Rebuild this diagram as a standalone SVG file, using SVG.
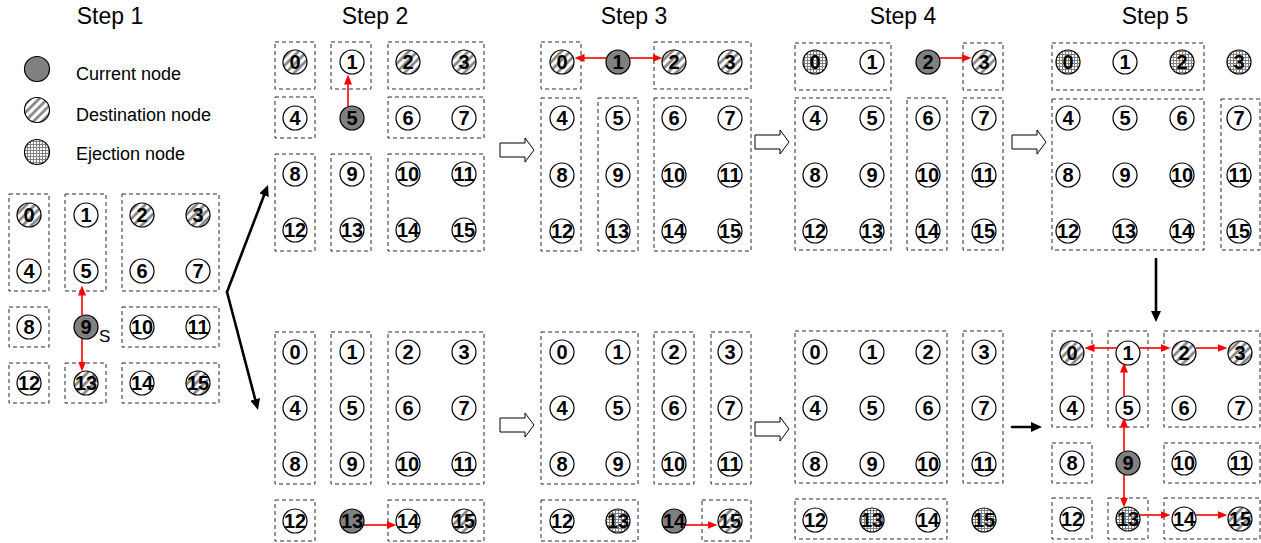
<svg xmlns="http://www.w3.org/2000/svg" width="1261" height="543" viewBox="0 0 1261 543">
<style>
.n{fill:#fff;stroke:#000;stroke-width:1.2}
.cur{fill:#808080;stroke:#000;stroke-width:1.2}
.dst{fill:url(#hatch);stroke:#000;stroke-width:1.2}
.ej{fill:url(#grid);stroke:#000;stroke-width:1.2}
.t{font-family:"Liberation Sans",Arial,sans-serif;font-size:20px;font-weight:bold;text-anchor:middle;fill:#000}
.lbl{font-family:"Liberation Sans",Arial,sans-serif;font-size:18px;fill:#000}
.ttl{font-family:"Liberation Sans",Arial,sans-serif;font-size:23px;fill:#000;text-anchor:middle}
.box{fill:none;stroke:#2a2a2a;stroke-width:1;stroke-dasharray:4 3}
.red{stroke:#ff0000;stroke-width:1.6;fill:none;marker-end:url(#rh)}
.blk{stroke:#000;stroke-width:2.6;fill:none;stroke-linecap:round;marker-end:url(#bh)}
.blockarrow{fill:#fff;stroke:#000;stroke-width:1}
</style>
<defs>
<pattern id="hatch" patternUnits="userSpaceOnUse" width="6" height="6" patternTransform="rotate(45)">
<rect width="6" height="6" fill="#fff"/>
<line x1="1.5" y1="0" x2="1.5" y2="6" stroke="#808080" stroke-width="2.6"/>
</pattern>
<pattern id="grid" patternUnits="userSpaceOnUse" width="3" height="3">
<rect width="3" height="3" fill="#fff"/>
<path d="M0,0.5H3M0.5,0V3" stroke="#808080" stroke-width="1"/>
</pattern>
<marker id="rh" markerUnits="userSpaceOnUse" markerWidth="10" markerHeight="8" refX="7.5" refY="4" orient="auto">
<path d="M0,0L10,4L0,8z" fill="#ff0000"/>
</marker>
<marker id="bh" markerUnits="userSpaceOnUse" markerWidth="12" markerHeight="10" refX="4" refY="5" orient="auto">
<path d="M0,0L11,5L0,10z" fill="#000"/>
</marker>
</defs>

<g id="titles">
<text class="ttl" x="110" y="24">Step 1</text>
<text class="ttl" x="375" y="24">Step 2</text>
<text class="ttl" x="634" y="24">Step 3</text>
<text class="ttl" x="903" y="24">Step 4</text>
<text class="ttl" x="1155" y="24">Step 5</text>
</g>

<g id="legend">
<circle class="cur" cx="37" cy="69" r="12.5"/>
<text class="lbl" x="76" y="80">Current node</text>
<circle class="dst" cx="37" cy="110" r="12.5"/>
<text class="lbl" x="76" y="121">Destination node</text>
<circle class="ej" cx="37" cy="152" r="12.5"/>
<text class="lbl" x="76" y="160">Ejection node</text>
</g>

<g id="regions">
<!-- step 1 -->
<rect class="box" x="9" y="194" width="40" height="97"/>
<rect class="box" x="65" y="194" width="41" height="97"/>
<rect class="box" x="122" y="194" width="97" height="97"/>
<rect class="box" x="9" y="307" width="40" height="40"/>
<rect class="box" x="122" y="307" width="97" height="40"/>
<rect class="box" x="9" y="363" width="40" height="40"/>
<rect class="box" x="65" y="363" width="41" height="40"/>
<rect class="box" x="122" y="363" width="97" height="40"/>
<!-- step 2 top -->
<rect class="box" x="275" y="42" width="40" height="47"/>
<rect class="box" x="331" y="42" width="40" height="47"/>
<rect class="box" x="388" y="42" width="96" height="47"/>
<rect class="box" x="275" y="97" width="40" height="41"/>
<rect class="box" x="388" y="97" width="96" height="41"/>
<rect class="box" x="275" y="154" width="40" height="97"/>
<rect class="box" x="331" y="154" width="40" height="97"/>
<rect class="box" x="388" y="154" width="96" height="97"/>
<!-- step 3 top -->
<rect class="box" x="541" y="42" width="40" height="47"/>
<rect class="box" x="654" y="42" width="97" height="47"/>
<rect class="box" x="541" y="98" width="40" height="153"/>
<rect class="box" x="598" y="98" width="40" height="153"/>
<rect class="box" x="654" y="98" width="97" height="153"/>
<!-- step 4 top -->
<rect class="box" x="795" y="43" width="96" height="47"/>
<rect class="box" x="963" y="43" width="40" height="47"/>
<rect class="box" x="795" y="98" width="96" height="152"/>
<rect class="box" x="907" y="98" width="40" height="152"/>
<rect class="box" x="963" y="98" width="40" height="152"/>
<!-- step 5 top -->
<rect class="box" x="1052" y="43" width="152" height="47"/>
<rect class="box" x="1052" y="99" width="152" height="151"/>
<rect class="box" x="1221" y="99" width="39" height="151"/>
<!-- step 2 bottom -->
<rect class="box" x="275" y="332" width="40" height="152"/>
<rect class="box" x="331" y="332" width="40" height="152"/>
<rect class="box" x="388" y="332" width="96" height="152"/>
<rect class="box" x="275" y="500" width="40" height="41"/>
<rect class="box" x="388" y="500" width="96" height="41"/>
<!-- step 3 bottom -->
<rect class="box" x="541" y="332" width="97" height="152"/>
<rect class="box" x="654" y="332" width="40" height="152"/>
<rect class="box" x="711" y="332" width="40" height="152"/>
<rect class="box" x="541" y="500" width="97" height="41"/>
<rect class="box" x="702" y="500" width="49" height="41"/>
<!-- step 4 bottom -->
<rect class="box" x="795" y="331" width="152" height="152"/>
<rect class="box" x="963" y="331" width="40" height="152"/>
<rect class="box" x="795" y="499" width="152" height="40"/>
<!-- step 5 bottom -->
<rect class="box" x="1052" y="331" width="40" height="96"/>
<rect class="box" x="1108" y="331" width="40" height="96"/>
<rect class="box" x="1164" y="331" width="96" height="96"/>
<rect class="box" x="1052" y="443" width="40" height="40"/>
<rect class="box" x="1164" y="443" width="96" height="40"/>
<rect class="box" x="1052" y="498" width="40" height="41"/>
<rect class="box" x="1108" y="498" width="40" height="41"/>
<rect class="box" x="1164" y="498" width="96" height="41"/>
</g>

<g id="step1">
<g id="s1-n0"><circle class="dst" cx="29" cy="215" r="12"/><text class="t" x="29" y="222">0</text></g>
<g id="s1-n1"><circle class="n" cx="86" cy="215" r="12"/><text class="t" x="86" y="222">1</text></g>
<g id="s1-n2"><circle class="dst" cx="142" cy="215" r="12"/><text class="t" x="142" y="222">2</text></g>
<g id="s1-n3"><circle class="dst" cx="198" cy="215" r="12"/><text class="t" x="198" y="222">3</text></g>
<g id="s1-n4"><circle class="n" cx="29" cy="271" r="12"/><text class="t" x="29" y="278">4</text></g>
<g id="s1-n5"><circle class="n" cx="86" cy="271" r="12"/><text class="t" x="86" y="278">5</text></g>
<g id="s1-n6"><circle class="n" cx="142" cy="271" r="12"/><text class="t" x="142" y="278">6</text></g>
<g id="s1-n7"><circle class="n" cx="198" cy="271" r="12"/><text class="t" x="198" y="278">7</text></g>
<g id="s1-n8"><circle class="n" cx="29" cy="327" r="12"/><text class="t" x="29" y="334">8</text></g>
<g id="s1-n9"><circle class="cur" cx="86" cy="327" r="12"/><text class="t" x="86" y="334">9</text></g>
<g id="s1-n10"><circle class="n" cx="142" cy="327" r="12"/><text class="t" x="142" y="334">10</text></g>
<g id="s1-n11"><circle class="n" cx="198" cy="327" r="12"/><text class="t" x="198" y="334">11</text></g>
<g id="s1-n12"><circle class="n" cx="29" cy="383" r="12"/><text class="t" x="29" y="390">12</text></g>
<g id="s1-n13"><circle class="dst" cx="86" cy="383" r="12"/><text class="t" x="86" y="390">13</text></g>
<g id="s1-n14"><circle class="n" cx="142" cy="383" r="12"/><text class="t" x="142" y="390">14</text></g>
<g id="s1-n15"><circle class="dst" cx="198" cy="383" r="12"/><text class="t" x="198" y="390">15</text></g>
<text class="lbl" x="99" y="342" style="font-size:17px">S</text>
</g>

<g id="step2-top">
<g id="s2t-n0"><circle class="dst" cx="295" cy="62" r="12"/><text class="t" x="295" y="69">0</text></g>
<g id="s2t-n1"><circle class="n" cx="352" cy="62" r="12"/><text class="t" x="352" y="69">1</text></g>
<g id="s2t-n2"><circle class="dst" cx="408" cy="62" r="12"/><text class="t" x="408" y="69">2</text></g>
<g id="s2t-n3"><circle class="dst" cx="464" cy="62" r="12"/><text class="t" x="464" y="69">3</text></g>
<g id="s2t-n4"><circle class="n" cx="295" cy="118" r="12"/><text class="t" x="295" y="125">4</text></g>
<g id="s2t-n5"><circle class="cur" cx="352" cy="118" r="12"/><text class="t" x="352" y="125">5</text></g>
<g id="s2t-n6"><circle class="n" cx="408" cy="118" r="12"/><text class="t" x="408" y="125">6</text></g>
<g id="s2t-n7"><circle class="n" cx="464" cy="118" r="12"/><text class="t" x="464" y="125">7</text></g>
<g id="s2t-n8"><circle class="n" cx="295" cy="174" r="12"/><text class="t" x="295" y="181">8</text></g>
<g id="s2t-n9"><circle class="n" cx="352" cy="174" r="12"/><text class="t" x="352" y="181">9</text></g>
<g id="s2t-n10"><circle class="n" cx="408" cy="174" r="12"/><text class="t" x="408" y="181">10</text></g>
<g id="s2t-n11"><circle class="n" cx="464" cy="174" r="12"/><text class="t" x="464" y="181">11</text></g>
<g id="s2t-n12"><circle class="n" cx="295" cy="230" r="12"/><text class="t" x="295" y="237">12</text></g>
<g id="s2t-n13"><circle class="n" cx="352" cy="230" r="12"/><text class="t" x="352" y="237">13</text></g>
<g id="s2t-n14"><circle class="n" cx="408" cy="230" r="12"/><text class="t" x="408" y="237">14</text></g>
<g id="s2t-n15"><circle class="n" cx="464" cy="230" r="12"/><text class="t" x="464" y="237">15</text></g>
</g>

<g id="step3-top">
<g id="s3t-n0"><circle class="dst" cx="562" cy="62" r="12"/><text class="t" x="562" y="69">0</text></g>
<g id="s3t-n1"><circle class="cur" cx="618" cy="62" r="12"/><text class="t" x="618" y="69">1</text></g>
<g id="s3t-n2"><circle class="dst" cx="674" cy="62" r="12"/><text class="t" x="674" y="69">2</text></g>
<g id="s3t-n3"><circle class="dst" cx="730" cy="62" r="12"/><text class="t" x="730" y="69">3</text></g>
<g id="s3t-n4"><circle class="n" cx="562" cy="118" r="12"/><text class="t" x="562" y="125">4</text></g>
<g id="s3t-n5"><circle class="n" cx="618" cy="118" r="12"/><text class="t" x="618" y="125">5</text></g>
<g id="s3t-n6"><circle class="n" cx="674" cy="118" r="12"/><text class="t" x="674" y="125">6</text></g>
<g id="s3t-n7"><circle class="n" cx="730" cy="118" r="12"/><text class="t" x="730" y="125">7</text></g>
<g id="s3t-n8"><circle class="n" cx="562" cy="175" r="12"/><text class="t" x="562" y="182">8</text></g>
<g id="s3t-n9"><circle class="n" cx="618" cy="175" r="12"/><text class="t" x="618" y="182">9</text></g>
<g id="s3t-n10"><circle class="n" cx="674" cy="175" r="12"/><text class="t" x="674" y="182">10</text></g>
<g id="s3t-n11"><circle class="n" cx="730" cy="175" r="12"/><text class="t" x="730" y="182">11</text></g>
<g id="s3t-n12"><circle class="n" cx="562" cy="231" r="12"/><text class="t" x="562" y="238">12</text></g>
<g id="s3t-n13"><circle class="n" cx="618" cy="231" r="12"/><text class="t" x="618" y="238">13</text></g>
<g id="s3t-n14"><circle class="n" cx="674" cy="231" r="12"/><text class="t" x="674" y="238">14</text></g>
<g id="s3t-n15"><circle class="n" cx="730" cy="231" r="12"/><text class="t" x="730" y="238">15</text></g>
</g>

<g id="step4-top">
<g id="s4t-n0"><circle class="ej" cx="815" cy="62" r="12"/><text class="t" x="815" y="69">0</text></g>
<g id="s4t-n1"><circle class="n" cx="872" cy="62" r="12"/><text class="t" x="872" y="69">1</text></g>
<g id="s4t-n2"><circle class="cur" cx="928" cy="62" r="12"/><text class="t" x="928" y="69">2</text></g>
<g id="s4t-n3"><circle class="dst" cx="984" cy="62" r="12"/><text class="t" x="984" y="69">3</text></g>
<g id="s4t-n4"><circle class="n" cx="815" cy="118" r="12"/><text class="t" x="815" y="125">4</text></g>
<g id="s4t-n5"><circle class="n" cx="872" cy="118" r="12"/><text class="t" x="872" y="125">5</text></g>
<g id="s4t-n6"><circle class="n" cx="928" cy="118" r="12"/><text class="t" x="928" y="125">6</text></g>
<g id="s4t-n7"><circle class="n" cx="984" cy="118" r="12"/><text class="t" x="984" y="125">7</text></g>
<g id="s4t-n8"><circle class="n" cx="815" cy="175" r="12"/><text class="t" x="815" y="182">8</text></g>
<g id="s4t-n9"><circle class="n" cx="872" cy="175" r="12"/><text class="t" x="872" y="182">9</text></g>
<g id="s4t-n10"><circle class="n" cx="928" cy="175" r="12"/><text class="t" x="928" y="182">10</text></g>
<g id="s4t-n11"><circle class="n" cx="984" cy="175" r="12"/><text class="t" x="984" y="182">11</text></g>
<g id="s4t-n12"><circle class="n" cx="815" cy="231" r="12"/><text class="t" x="815" y="238">12</text></g>
<g id="s4t-n13"><circle class="n" cx="872" cy="231" r="12"/><text class="t" x="872" y="238">13</text></g>
<g id="s4t-n14"><circle class="n" cx="928" cy="231" r="12"/><text class="t" x="928" y="238">14</text></g>
<g id="s4t-n15"><circle class="n" cx="984" cy="231" r="12"/><text class="t" x="984" y="238">15</text></g>
</g>

<g id="step5-top">
<g id="s5t-n0"><circle class="ej" cx="1068" cy="62" r="12"/><text class="t" x="1068" y="69">0</text></g>
<g id="s5t-n1"><circle class="n" cx="1125" cy="62" r="12"/><text class="t" x="1125" y="69">1</text></g>
<g id="s5t-n2"><circle class="ej" cx="1182" cy="62" r="12"/><text class="t" x="1182" y="69">2</text></g>
<g id="s5t-n3"><circle class="ej" cx="1239" cy="62" r="12"/><text class="t" x="1239" y="69">3</text></g>
<g id="s5t-n4"><circle class="n" cx="1068" cy="118" r="12"/><text class="t" x="1068" y="125">4</text></g>
<g id="s5t-n5"><circle class="n" cx="1125" cy="118" r="12"/><text class="t" x="1125" y="125">5</text></g>
<g id="s5t-n6"><circle class="n" cx="1182" cy="118" r="12"/><text class="t" x="1182" y="125">6</text></g>
<g id="s5t-n7"><circle class="n" cx="1239" cy="118" r="12"/><text class="t" x="1239" y="125">7</text></g>
<g id="s5t-n8"><circle class="n" cx="1068" cy="175" r="12"/><text class="t" x="1068" y="182">8</text></g>
<g id="s5t-n9"><circle class="n" cx="1125" cy="175" r="12"/><text class="t" x="1125" y="182">9</text></g>
<g id="s5t-n10"><circle class="n" cx="1182" cy="175" r="12"/><text class="t" x="1182" y="182">10</text></g>
<g id="s5t-n11"><circle class="n" cx="1239" cy="175" r="12"/><text class="t" x="1239" y="182">11</text></g>
<g id="s5t-n12"><circle class="n" cx="1068" cy="231" r="12"/><text class="t" x="1068" y="238">12</text></g>
<g id="s5t-n13"><circle class="n" cx="1125" cy="231" r="12"/><text class="t" x="1125" y="238">13</text></g>
<g id="s5t-n14"><circle class="n" cx="1182" cy="231" r="12"/><text class="t" x="1182" y="238">14</text></g>
<g id="s5t-n15"><circle class="n" cx="1239" cy="231" r="12"/><text class="t" x="1239" y="238">15</text></g>
</g>

<g id="step2-bottom">
<g id="s2b-n0"><circle class="n" cx="295" cy="352" r="12"/><text class="t" x="295" y="359">0</text></g>
<g id="s2b-n1"><circle class="n" cx="352" cy="352" r="12"/><text class="t" x="352" y="359">1</text></g>
<g id="s2b-n2"><circle class="n" cx="408" cy="352" r="12"/><text class="t" x="408" y="359">2</text></g>
<g id="s2b-n3"><circle class="n" cx="464" cy="352" r="12"/><text class="t" x="464" y="359">3</text></g>
<g id="s2b-n4"><circle class="n" cx="295" cy="408" r="12"/><text class="t" x="295" y="415">4</text></g>
<g id="s2b-n5"><circle class="n" cx="352" cy="408" r="12"/><text class="t" x="352" y="415">5</text></g>
<g id="s2b-n6"><circle class="n" cx="408" cy="408" r="12"/><text class="t" x="408" y="415">6</text></g>
<g id="s2b-n7"><circle class="n" cx="464" cy="408" r="12"/><text class="t" x="464" y="415">7</text></g>
<g id="s2b-n8"><circle class="n" cx="295" cy="464" r="12"/><text class="t" x="295" y="471">8</text></g>
<g id="s2b-n9"><circle class="n" cx="352" cy="464" r="12"/><text class="t" x="352" y="471">9</text></g>
<g id="s2b-n10"><circle class="n" cx="408" cy="464" r="12"/><text class="t" x="408" y="471">10</text></g>
<g id="s2b-n11"><circle class="n" cx="464" cy="464" r="12"/><text class="t" x="464" y="471">11</text></g>
<g id="s2b-n12"><circle class="n" cx="295" cy="521" r="12"/><text class="t" x="295" y="528">12</text></g>
<g id="s2b-n13"><circle class="cur" cx="352" cy="521" r="12"/><text class="t" x="352" y="528">13</text></g>
<g id="s2b-n14"><circle class="n" cx="408" cy="521" r="12"/><text class="t" x="408" y="528">14</text></g>
<g id="s2b-n15"><circle class="dst" cx="464" cy="521" r="12"/><text class="t" x="464" y="528">15</text></g>
</g>

<g id="step3-bottom">
<g id="s3b-n0"><circle class="n" cx="562" cy="352" r="12"/><text class="t" x="562" y="359">0</text></g>
<g id="s3b-n1"><circle class="n" cx="618" cy="352" r="12"/><text class="t" x="618" y="359">1</text></g>
<g id="s3b-n2"><circle class="n" cx="674" cy="352" r="12"/><text class="t" x="674" y="359">2</text></g>
<g id="s3b-n3"><circle class="n" cx="730" cy="352" r="12"/><text class="t" x="730" y="359">3</text></g>
<g id="s3b-n4"><circle class="n" cx="562" cy="408" r="12"/><text class="t" x="562" y="415">4</text></g>
<g id="s3b-n5"><circle class="n" cx="618" cy="408" r="12"/><text class="t" x="618" y="415">5</text></g>
<g id="s3b-n6"><circle class="n" cx="674" cy="408" r="12"/><text class="t" x="674" y="415">6</text></g>
<g id="s3b-n7"><circle class="n" cx="730" cy="408" r="12"/><text class="t" x="730" y="415">7</text></g>
<g id="s3b-n8"><circle class="n" cx="562" cy="464" r="12"/><text class="t" x="562" y="471">8</text></g>
<g id="s3b-n9"><circle class="n" cx="618" cy="464" r="12"/><text class="t" x="618" y="471">9</text></g>
<g id="s3b-n10"><circle class="n" cx="674" cy="464" r="12"/><text class="t" x="674" y="471">10</text></g>
<g id="s3b-n11"><circle class="n" cx="730" cy="464" r="12"/><text class="t" x="730" y="471">11</text></g>
<g id="s3b-n12"><circle class="n" cx="562" cy="521" r="12"/><text class="t" x="562" y="528">12</text></g>
<g id="s3b-n13"><circle class="ej" cx="618" cy="521" r="12"/><text class="t" x="618" y="528">13</text></g>
<g id="s3b-n14"><circle class="cur" cx="674" cy="521" r="12"/><text class="t" x="674" y="528">14</text></g>
<g id="s3b-n15"><circle class="dst" cx="730" cy="521" r="12"/><text class="t" x="730" y="528">15</text></g>
</g>

<g id="step4-bottom">
<g id="s4b-n0"><circle class="n" cx="815" cy="352" r="12"/><text class="t" x="815" y="359">0</text></g>
<g id="s4b-n1"><circle class="n" cx="872" cy="352" r="12"/><text class="t" x="872" y="359">1</text></g>
<g id="s4b-n2"><circle class="n" cx="928" cy="352" r="12"/><text class="t" x="928" y="359">2</text></g>
<g id="s4b-n3"><circle class="n" cx="984" cy="352" r="12"/><text class="t" x="984" y="359">3</text></g>
<g id="s4b-n4"><circle class="n" cx="815" cy="408" r="12"/><text class="t" x="815" y="415">4</text></g>
<g id="s4b-n5"><circle class="n" cx="872" cy="408" r="12"/><text class="t" x="872" y="415">5</text></g>
<g id="s4b-n6"><circle class="n" cx="928" cy="408" r="12"/><text class="t" x="928" y="415">6</text></g>
<g id="s4b-n7"><circle class="n" cx="984" cy="408" r="12"/><text class="t" x="984" y="415">7</text></g>
<g id="s4b-n8"><circle class="n" cx="815" cy="464" r="12"/><text class="t" x="815" y="471">8</text></g>
<g id="s4b-n9"><circle class="n" cx="872" cy="464" r="12"/><text class="t" x="872" y="471">9</text></g>
<g id="s4b-n10"><circle class="n" cx="928" cy="464" r="12"/><text class="t" x="928" y="471">10</text></g>
<g id="s4b-n11"><circle class="n" cx="984" cy="464" r="12"/><text class="t" x="984" y="471">11</text></g>
<g id="s4b-n12"><circle class="n" cx="815" cy="520" r="12"/><text class="t" x="815" y="527">12</text></g>
<g id="s4b-n13"><circle class="ej" cx="872" cy="520" r="12"/><text class="t" x="872" y="527">13</text></g>
<g id="s4b-n14"><circle class="n" cx="928" cy="520" r="12"/><text class="t" x="928" y="527">14</text></g>
<g id="s4b-n15"><circle class="ej" cx="984" cy="520" r="12"/><text class="t" x="984" y="527">15</text></g>
</g>

<g id="step5-bottom">
<g id="s5b-n0"><circle class="dst" cx="1072" cy="353" r="12"/><text class="t" x="1072" y="360">0</text></g>
<g id="s5b-n1"><circle class="n" cx="1128" cy="353" r="12"/><text class="t" x="1128" y="360">1</text></g>
<g id="s5b-n2"><circle class="dst" cx="1184" cy="353" r="12"/><text class="t" x="1184" y="360">2</text></g>
<g id="s5b-n3"><circle class="dst" cx="1240" cy="353" r="12"/><text class="t" x="1240" y="360">3</text></g>
<g id="s5b-n4"><circle class="n" cx="1072" cy="408" r="12"/><text class="t" x="1072" y="415">4</text></g>
<g id="s5b-n5"><circle class="n" cx="1128" cy="408" r="12"/><text class="t" x="1128" y="415">5</text></g>
<g id="s5b-n6"><circle class="n" cx="1184" cy="408" r="12"/><text class="t" x="1184" y="415">6</text></g>
<g id="s5b-n7"><circle class="n" cx="1240" cy="408" r="12"/><text class="t" x="1240" y="415">7</text></g>
<g id="s5b-n8"><circle class="n" cx="1072" cy="463" r="12"/><text class="t" x="1072" y="470">8</text></g>
<g id="s5b-n9"><circle class="cur" cx="1128" cy="463" r="12"/><text class="t" x="1128" y="470">9</text></g>
<g id="s5b-n10"><circle class="n" cx="1184" cy="463" r="12"/><text class="t" x="1184" y="470">10</text></g>
<g id="s5b-n11"><circle class="n" cx="1240" cy="463" r="12"/><text class="t" x="1240" y="470">11</text></g>
<g id="s5b-n12"><circle class="n" cx="1072" cy="519" r="12"/><text class="t" x="1072" y="526">12</text></g>
<g id="s5b-n13"><circle class="ej" cx="1128" cy="519" r="12"/><text class="t" x="1128" y="526">13</text></g>
<g id="s5b-n14"><circle class="n" cx="1184" cy="519" r="12"/><text class="t" x="1184" y="526">14</text></g>
<g id="s5b-n15"><circle class="dst" cx="1240" cy="519" r="12"/><text class="t" x="1240" y="526">15</text></g>
</g>

<g id="connectors">
<!-- red routing arrows -->
<line class="red" x1="82" y1="315" x2="82" y2="288"/>
<line class="red" x1="82" y1="339" x2="82" y2="369"/>
<line class="red" x1="348" y1="106" x2="348" y2="77"/>
<line class="red" x1="606" y1="58" x2="577" y2="58"/>
<line class="red" x1="630" y1="58" x2="660" y2="58"/>
<line class="red" x1="940" y1="58" x2="969" y2="58"/>
<line class="red" x1="364" y1="525" x2="394" y2="525"/>
<line class="red" x1="686" y1="525" x2="715" y2="525"/>
<line class="red" x1="1117" y1="348" x2="1087" y2="348"/>
<line class="red" x1="1139" y1="348" x2="1168" y2="348"/>
<line class="red" x1="1196" y1="348" x2="1225" y2="348"/>
<line class="red" x1="1124" y1="396" x2="1124" y2="365"/>
<line class="red" x1="1124" y1="451" x2="1124" y2="420"/>
<line class="red" x1="1124" y1="475" x2="1124" y2="505"/>
<line class="red" x1="1140" y1="515" x2="1168" y2="515"/>
<line class="red" x1="1196" y1="515" x2="1225" y2="515"/>
<!-- black arrows -->
<line class="blk" x1="227" y1="292" x2="265.5" y2="191.5"/>
<line class="blk" x1="227" y1="292" x2="256.2" y2="403.2"/>
<line class="blk" x1="1156" y1="259" x2="1156" y2="315"/>
<line class="blk" x1="1012" y1="427" x2="1035" y2="427"/>
<!-- hollow block arrows -->
<polygon class="blockarrow" points="500,143 525,143 525,138 534,150 525,162 525,157 500,157"/>
<polygon class="blockarrow" points="755,135 780,135 780,130 789,142 780,154 780,149 755,149"/>
<polygon class="blockarrow" points="1012,135 1037,135 1037,130 1046,142 1037,154 1037,149 1012,149"/>
<polygon class="blockarrow" points="500,418 525,418 525,413 534,425 525,437 525,432 500,432"/>
<polygon class="blockarrow" points="755,422 780,422 780,417 789,429 780,441 780,436 755,436"/>
</g>
</svg>
